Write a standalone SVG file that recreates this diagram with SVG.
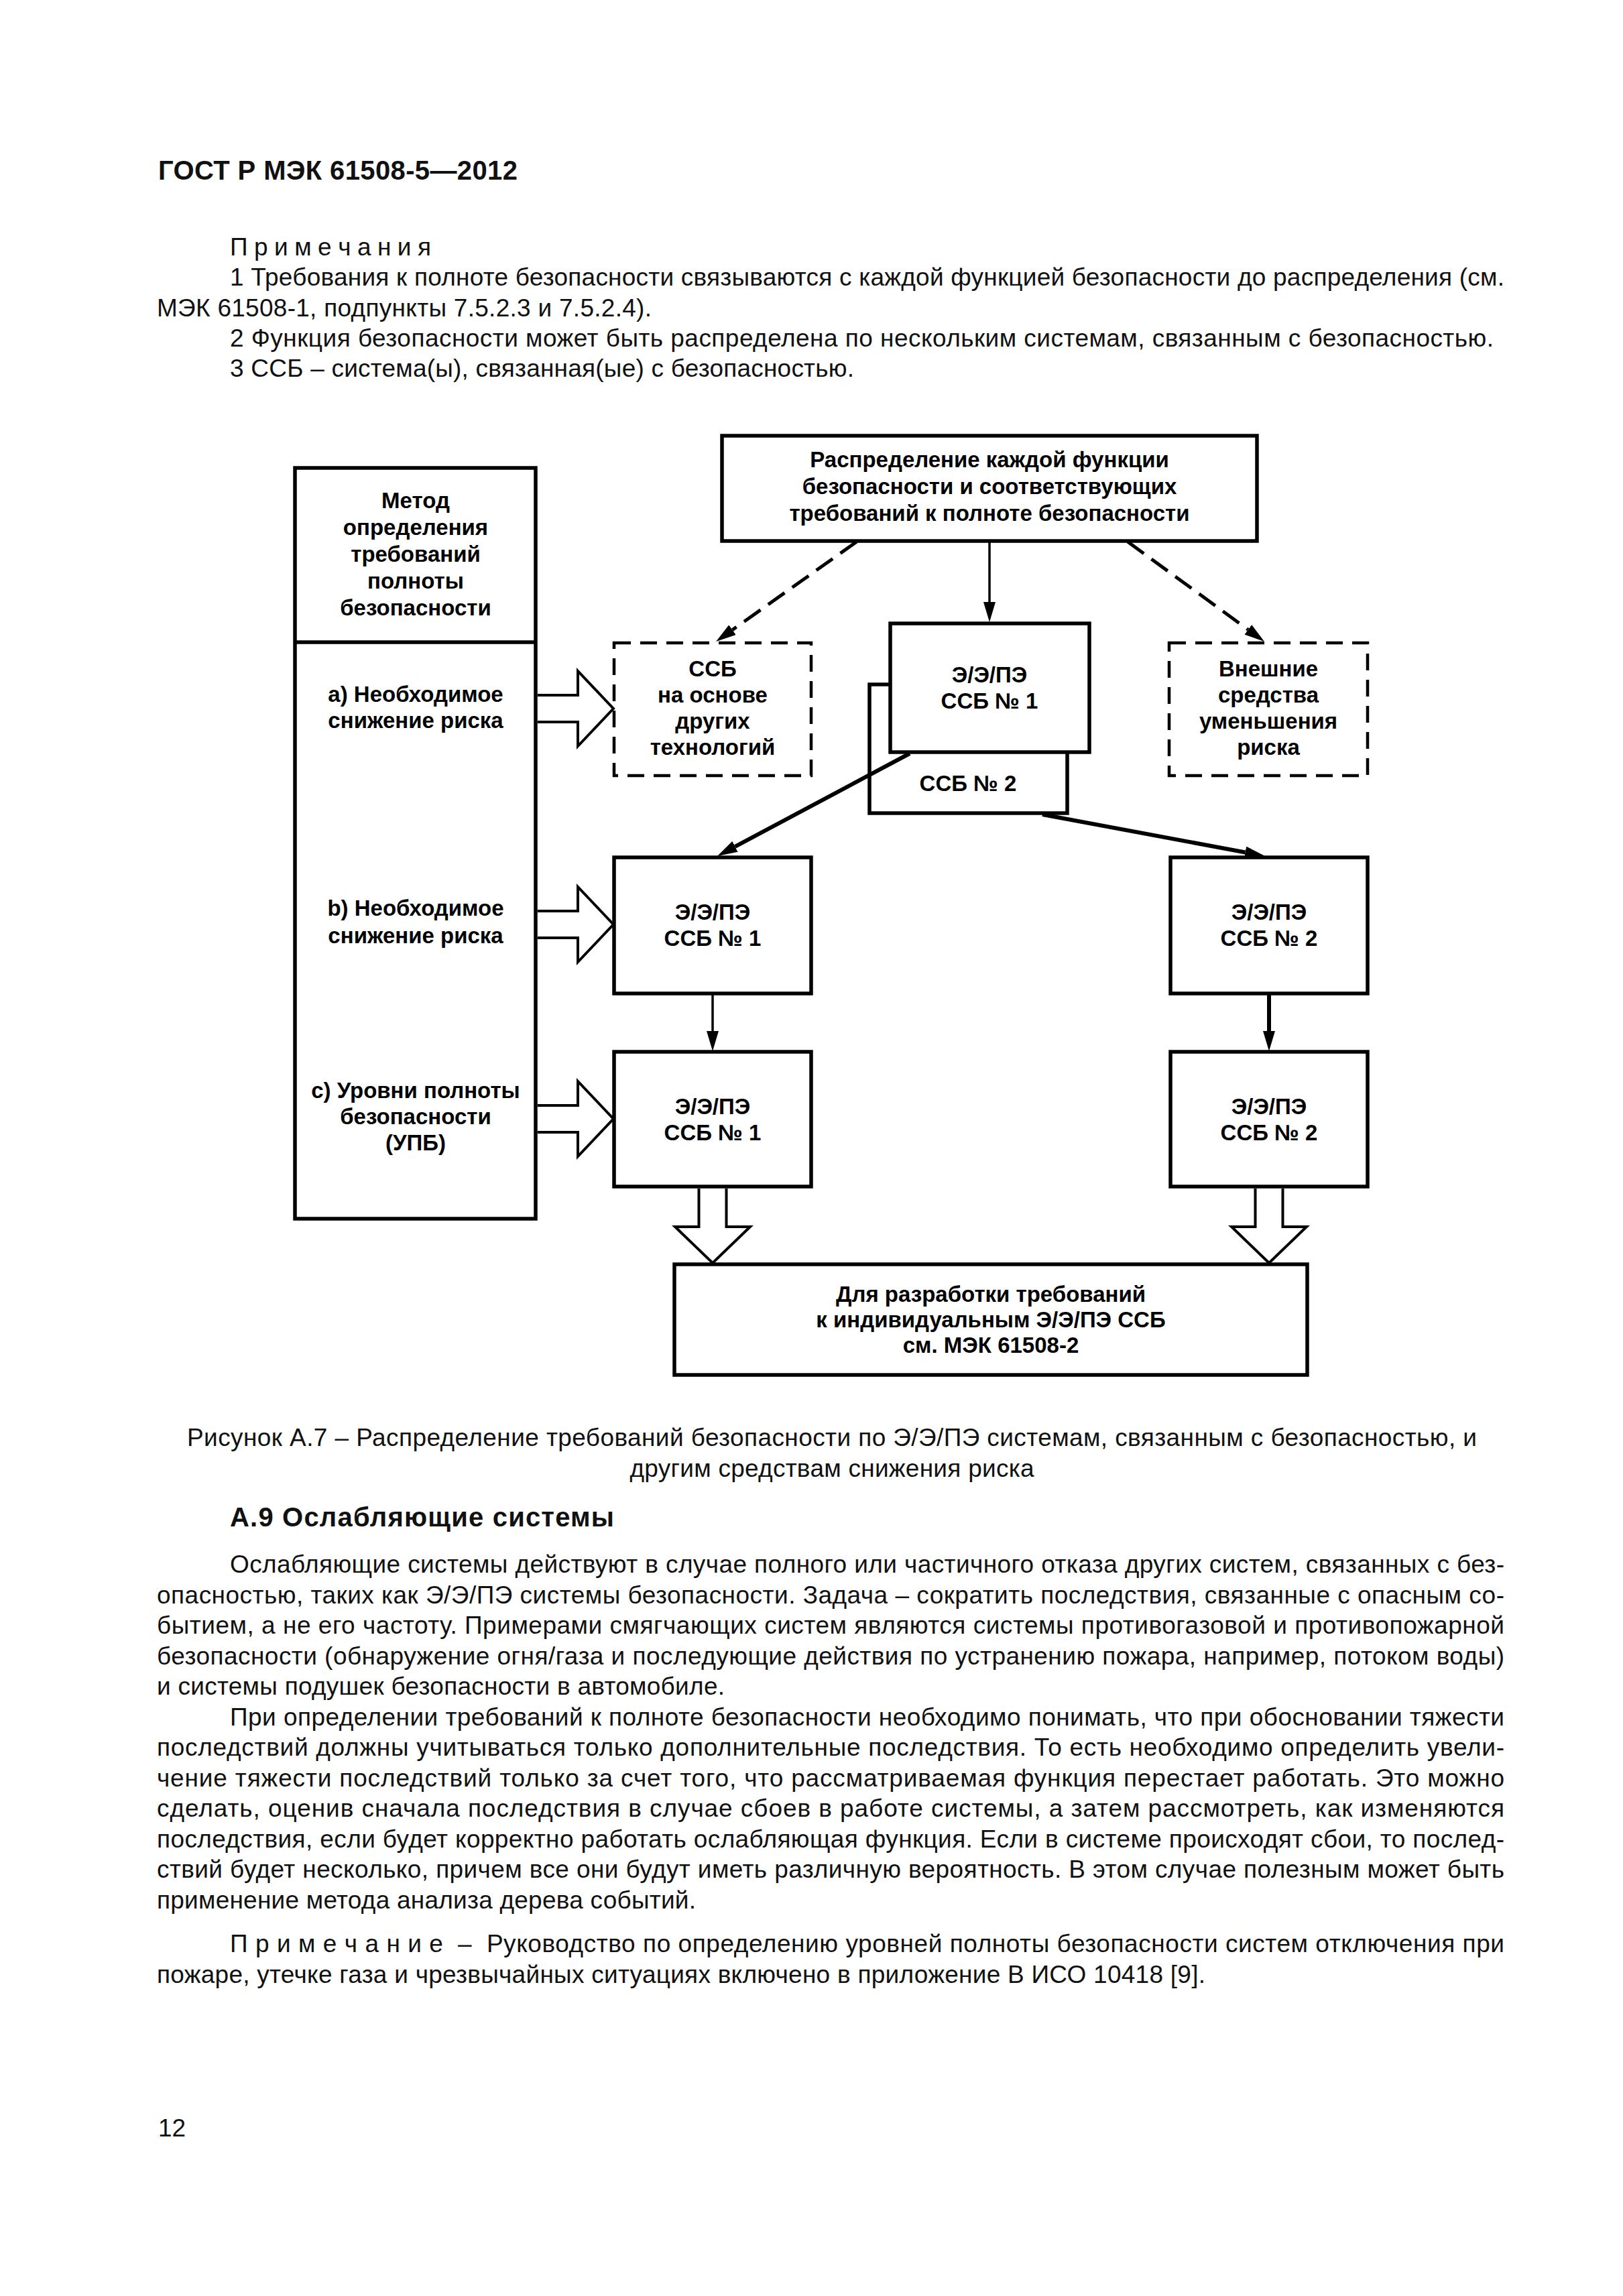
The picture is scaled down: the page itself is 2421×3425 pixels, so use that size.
<svg xmlns="http://www.w3.org/2000/svg" width="2421" height="3425" viewBox="0 0 2421 3425">
<style>
.t{font-family:"Liberation Sans",Arial,sans-serif;font-size:37px;fill:#111}
.hb{font-family:"Liberation Sans",Arial,sans-serif;font-size:40px;font-weight:bold;fill:#111}
.d{font-family:"Liberation Sans",Arial,sans-serif;font-size:33px;font-weight:bold;fill:#000;text-anchor:middle}
.box{fill:#fff;stroke:#000;stroke-width:5.5}
.dbox{fill:none;stroke:#000;stroke-width:4.5;stroke-dasharray:25 14}
.blk{fill:none;stroke:#000;stroke-width:4;stroke-linejoin:miter}
.ln{fill:none;stroke:#000;marker-end:url(#ah)}
</style>
<defs>
<marker id="ah" markerUnits="userSpaceOnUse" viewBox="0 0 30 18" markerWidth="30" markerHeight="18" refX="0" refY="9" orient="auto">
<path d="M0,0 L30,9 L0,18 Z" fill="#000" stroke="none"/>
</marker>
</defs>
<rect width="2421" height="3425" fill="#fff"/>

<g id="page-text">
<text class="hb" x="236" y="268" textLength="536">ГОСТ Р МЭК 61508-5—2012</text>
<text class="t" x="343" y="381" textLength="300">П р и м е ч а н и я</text>
<text class="t" x="343" y="426" textLength="1901">1 Требования к полноте безопасности связываются с каждой функцией безопасности до распределения (см.</text>
<text class="t" x="234" y="472" textLength="738">МЭК 61508-1, подпункты 7.5.2.3 и 7.5.2.4).</text>
<text class="t" x="343" y="517" textLength="1885">2 Функция безопасности может быть распределена по нескольким системам, связанным с безопасностью.</text>
<text class="t" x="343" y="562" textLength="931">3 ССБ – система(ы), связанная(ые) с безопасностью.</text>

<text class="t" x="279" y="2157" textLength="1924">Рисунок А.7 – Распределение требований безопасности по Э/Э/ПЭ системам, связанным с безопасностью, и</text>
<text class="t" x="1241" y="2203" text-anchor="middle" textLength="603">другим средствам снижения риска</text>

<text class="hb" x="343" y="2277" textLength="573">А.9 Ослабляющие системы</text>

<text class="t" x="343" y="2346" textLength="1901">Ослабляющие системы действуют в случае полного или частичного отказа других систем, связанных с без-</text>
<text class="t" x="234" y="2391.5" textLength="2010">опасностью, таких как Э/Э/ПЭ системы безопасности. Задача – сократить последствия, связанные с опасным со-</text>
<text class="t" x="234" y="2437" textLength="2010">бытием, а не его частоту. Примерами смягчающих систем являются системы противогазовой и противопожарной</text>
<text class="t" x="234" y="2482.5" textLength="2010">безопасности (обнаружение огня/газа и последующие действия по устранению пожара, например, потоком воды)</text>
<text class="t" x="234" y="2528" textLength="847">и системы подушек безопасности в автомобиле.</text>

<text class="t" x="343" y="2573.5" textLength="1901">При определении требований к полноте безопасности необходимо понимать, что при обосновании тяжести</text>
<text class="t" x="234" y="2619" textLength="2010">последствий должны учитываться только дополнительные последствия. То есть необходимо определить увели-</text>
<text class="t" x="234" y="2664.5" textLength="2010">чение тяжести последствий только за счет того, что рассматриваемая функция перестает работать. Это можно</text>
<text class="t" x="234" y="2710" textLength="2010">сделать, оценив сначала последствия в случае сбоев в работе системы, а затем рассмотреть, как изменяются</text>
<text class="t" x="234" y="2755.5" textLength="2010">последствия, если будет корректно работать ослабляющая функция. Если в системе происходят сбои, то послед-</text>
<text class="t" x="234" y="2801" textLength="2010">ствий будет несколько, причем все они будут иметь различную вероятность. В этом случае полезным может быть</text>
<text class="t" x="234" y="2846.5" textLength="804">применение метода анализа дерева событий.</text>

<text class="t" x="343" y="2912" textLength="1901" xml:space="preserve">П р и м е ч а н и е  –  Руководство по определению уровней полноты безопасности систем отключения при</text>
<text class="t" x="234" y="2958" textLength="1564">пожаре, утечке газа и чрезвычайных ситуациях включено в приложение В ИСО 10418 [9].</text>

<text class="t" x="236" y="3187">12</text>
</g>

<g id="node-method">
<rect class="box" x="440" y="698" width="359" height="1120"/>
<line x1="440" y1="958" x2="799" y2="958" stroke="#000" stroke-width="5.5"/>
<text class="d" x="620" y="758">Метод</text>
<text class="d" x="620" y="798">определения</text>
<text class="d" x="620" y="838">требований</text>
<text class="d" x="620" y="878">полноты</text>
<text class="d" x="620" y="918">безопасности</text>
<text class="d" x="620" y="1047">a) Необходимое</text>
<text class="d" x="620" y="1086">снижение риска</text>
<text class="d" x="620" y="1366">b) Необходимое</text>
<text class="d" x="620" y="1407">снижение риска</text>
<text class="d" x="620" y="1638">c) Уровни полноты</text>
<text class="d" x="620" y="1677">безопасности</text>
<text class="d" x="620" y="1716">(УПБ)</text>
</g>

<g id="node-top">
<rect class="box" x="1077" y="650" width="798" height="157"/>
<text class="d" x="1476" y="697">Распределение каждой функции</text>
<text class="d" x="1476" y="737">безопасности и соответствующих</text>
<text class="d" x="1476" y="777">требований к полноте безопасности</text>
</g>

<g id="node-other-tech">
<rect class="dbox" x="916" y="959" width="294" height="198"/>
<text class="d" x="1063" y="1009">ССБ</text>
<text class="d" x="1063" y="1048">на основе</text>
<text class="d" x="1063" y="1087">других</text>
<text class="d" x="1063" y="1126">технологий</text>
</g>

<g id="node-ssb2-back">
<rect class="box" x="1297" y="1021" width="295" height="192"/>
<text class="d" x="1444" y="1180">ССБ № 2</text>
</g>

<g id="node-eepe1-top">
<rect class="box" x="1328" y="930" width="297" height="192"/>
<text class="d" x="1476" y="1018">Э/Э/ПЭ</text>
<text class="d" x="1476" y="1057">ССБ № 1</text>
</g>

<g id="node-external">
<rect class="dbox" x="1744" y="959" width="296" height="198"/>
<text class="d" x="1892" y="1009">Внешние</text>
<text class="d" x="1892" y="1048">средства</text>
<text class="d" x="1892" y="1087">уменьшения</text>
<text class="d" x="1892" y="1126">риска</text>
</g>

<g id="node-b1">
<rect class="box" x="916" y="1279" width="294" height="203"/>
<text class="d" x="1063" y="1372">Э/Э/ПЭ</text>
<text class="d" x="1063" y="1411">ССБ № 1</text>
</g>

<g id="node-b2">
<rect class="box" x="1746" y="1279" width="294" height="203"/>
<text class="d" x="1893" y="1372">Э/Э/ПЭ</text>
<text class="d" x="1893" y="1411">ССБ № 2</text>
</g>

<g id="node-c1">
<rect class="box" x="916" y="1569" width="294" height="201"/>
<text class="d" x="1063" y="1662">Э/Э/ПЭ</text>
<text class="d" x="1063" y="1701">ССБ № 1</text>
</g>

<g id="node-c2">
<rect class="box" x="1746" y="1569" width="294" height="201"/>
<text class="d" x="1893" y="1662">Э/Э/ПЭ</text>
<text class="d" x="1893" y="1701">ССБ № 2</text>
</g>

<g id="node-bottom">
<rect class="box" x="1006" y="1886" width="944" height="165"/>
<text class="d" x="1478" y="1942">Для разработки требований</text>
<text class="d" x="1478" y="1980">к индивидуальным Э/Э/ПЭ ССБ</text>
<text class="d" x="1478" y="2018">см. МЭК 61508-2</text>
</g>

<g id="connectors">
<line class="ln" x1="1476" y1="807" x2="1476" y2="898" stroke-width="3.5"/>
<line class="ln" x1="1278" y1="808" x2="1092.5" y2="939.6" stroke-width="5" stroke-dasharray="30 14"/>
<line class="ln" x1="1682" y1="808" x2="1861.8" y2="939.3" stroke-width="5" stroke-dasharray="30 14"/>
<line class="ln" x1="1357" y1="1124" x2="1096.5" y2="1262.9" stroke-width="6"/>
<line class="ln" x1="1555" y1="1215" x2="1857.5" y2="1271.5" stroke-width="6"/>
<line class="ln" x1="1063" y1="1482" x2="1063" y2="1538" stroke-width="3.5"/>
<line class="ln" x1="1893" y1="1482" x2="1893" y2="1538" stroke-width="6"/>
<path class="blk" d="M802,1037 H862 V1001 L915,1057 L862,1113 V1077 H802"/>
<path class="blk" d="M802,1359 H862 V1323 L915,1379 L862,1435 V1399 H802"/>
<path class="blk" d="M802,1649 H862 V1613 L915,1669 L862,1725 V1689 H802"/>
<path class="blk" d="M1042.5,1773 V1830 H1007 L1063,1884 L1119,1830 H1083.5 V1773"/>
<path class="blk" d="M1872.5,1773 V1830 H1837 L1893,1884 L1949,1830 H1913.5 V1773"/>
</g>
</svg>
